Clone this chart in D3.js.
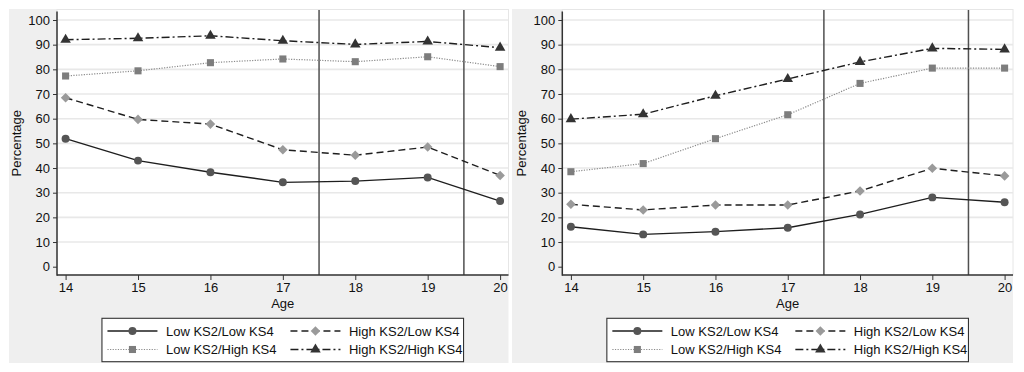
<!DOCTYPE html>
<html>
<head>
<meta charset="utf-8">
<script src="https://cdn.jsdelivr.net/npm/d3@7"></script>
<style>
  html, body { margin: 0; padding: 0; background: #ffffff; }
  svg { display: block; font-family: "Liberation Sans", Arial, sans-serif; }
</style>
</head>
<body>
<svg id="chart" width="1024" height="372"></svg>
<script>
// ---------- data ----------
const ages = [14, 15, 16, 17, 18, 19, 20];
const yTickValues = [0, 10, 20, 30, 40, 50, 60, 70, 80, 90, 100];
const gridValues = [10, 20, 30, 40, 50, 60, 70, 80, 90, 100];
const refLineAges = [17.5, 19.5];
const seriesLabels = ["Low KS2/Low KS4", "High KS2/Low KS4", "Low KS2/High KS4", "High KS2/High KS4"];

const leftLowLow   = [51.9, 43.0, 38.3, 34.2, 34.7, 36.2, 26.6];
const leftHighLow  = [68.5, 59.7, 57.8, 47.4, 45.2, 48.5, 37.0];
const leftLowHigh  = [77.3, 79.4, 82.7, 84.2, 83.1, 85.1, 81.1];
const leftHighHigh = [92.0, 92.6, 93.6, 91.6, 90.1, 91.3, 88.8];

const rightLowLow   = [16.2, 13.1, 14.2, 15.8, 21.2, 28.1, 26.1];
const rightHighLow  = [25.3, 23.0, 25.0, 25.0, 30.7, 39.9, 36.8];
const rightLowHigh  = [38.5, 41.8, 51.9, 61.6, 74.3, 80.5, 80.5];
const rightHighHigh = [59.8, 61.8, 69.3, 76.1, 83.0, 88.5, 88.1];

// ---------- styles ----------
const seriesStyles = [
  { line: "#1e1e1e", width: 1.4, dash: null,        marker: "circle",   fill: "#555555" },
  { line: "#1e1e1e", width: 1.4, dash: "7,4",       marker: "diamond",  fill: "#9a9a9a" },
  { line: "#8a8a8a", width: 1.2, dash: "1.2,1.4",   marker: "square",   fill: "#7d7d7d" },
  { line: "#1e1e1e", width: 1.4, dash: "8,3,2,3",   marker: "triangle", fill: "#333333" }
];

const panels = [
  { bgX0: 9,   bgX1: 508.5, axisX: 57,    plotRight: 508.5, series: [leftLowLow, leftHighLow, leftLowHigh, leftHighHigh] },
  { bgX0: 512, bgX1: 1013,  axisX: 562.3, plotRight: 1013,  series: [rightLowLow, rightHighLow, rightLowHigh, rightHighHigh] }
];

const bgY0 = 9, bgY1 = 363;
const plotTop = 9.5, axisY = 275;
const fontSize = 13;

const svg = d3.select("#chart");

function markerPath(type) {
  if (type === "circle") return d3.symbol().type(d3.symbolCircle).size(50)();
  if (type === "square") return d3.symbol().type(d3.symbolSquare).size(50)();
  if (type === "triangle") return d3.symbol().type(d3.symbolTriangle).size(48)();
  if (type === "diamond") return d3.symbol().type(d3.symbolSquare).size(46)();
}
function markerTransform(type, x, y) {
  return type === "diamond" ? `translate(${x},${y}) rotate(45)` : `translate(${x},${y})`;
}

panels.forEach(p => {
  const g = svg.append("g");
  // graph region background
  g.append("rect").attr("x", p.bgX0).attr("y", bgY0)
    .attr("width", p.bgX1 - p.bgX0).attr("height", bgY1 - bgY0).attr("fill", "#efefef");
  // plot region
  g.append("rect").attr("x", p.axisX).attr("y", plotTop)
    .attr("width", p.plotRight - p.axisX).attr("height", axisY - plotTop)
    .attr("fill", "#ffffff").attr("stroke", "#e6e6e6").attr("stroke-width", 1);

  const x = d3.scaleLinear().domain([14, 20]).range([p.axisX + 8.6, p.plotRight - 8.4]);
  const y = d3.scaleLinear().domain([0, 100]).range([266.7, 20]);

  // grid
  g.append("g").selectAll("line").data(gridValues).join("line")
    .attr("x1", p.axisX).attr("x2", p.plotRight)
    .attr("y1", d => y(d)).attr("y2", d => y(d))
    .attr("stroke", "#e8e8e8").attr("stroke-width", 1.6);

  // reference lines
  g.append("g").selectAll("line").data(refLineAges).join("line")
    .attr("x1", d => x(d)).attr("x2", d => x(d))
    .attr("y1", plotTop + 0.5).attr("y2", axisY)
    .attr("stroke", "#505050").attr("stroke-width", 1.5);

  // y axis
  const yAxis = g.append("g").attr("transform", `translate(${p.axisX},0)`)
    .call(d3.axisLeft(y).tickValues(yTickValues).tickSize(4).tickPadding(3).tickSizeOuter(0));
  yAxis.select(".domain").remove();
  yAxis.selectAll(".tick line").attr("stroke", "#333").attr("stroke-width", 1);
  yAxis.selectAll(".tick text").attr("font-size", fontSize).attr("fill", "#111")
    .attr("font-family", "Liberation Sans, Arial, sans-serif");

  // x axis
  const xAxis = g.append("g").attr("transform", `translate(0,${axisY})`)
    .call(d3.axisBottom(x).tickValues(ages).tickFormat(d3.format("d")).tickSize(5).tickPadding(3).tickSizeOuter(0));
  xAxis.select(".domain").remove();
  xAxis.selectAll(".tick line").attr("stroke", "#333").attr("stroke-width", 1);
  xAxis.selectAll(".tick text").attr("font-size", fontSize).attr("fill", "#111")
    .attr("font-family", "Liberation Sans, Arial, sans-serif");

  // axis lines
  g.append("line").attr("x1", p.axisX).attr("x2", p.axisX).attr("y1", 11.5).attr("y2", axisY + 0.7)
    .attr("stroke", "#333").attr("stroke-width", 1.5);
  g.append("line").attr("x1", p.axisX).attr("x2", p.plotRight).attr("y1", axisY).attr("y2", axisY)
    .attr("stroke", "#333").attr("stroke-width", 1.5);

  // axis titles
  g.append("text").attr("x", (p.axisX + p.plotRight) / 2).attr("y", 307.5)
    .attr("text-anchor", "middle").attr("font-size", fontSize).attr("fill", "#111").text("Age");
  g.append("text")
    .attr("transform", `translate(21,${(11.5 + axisY) / 2}) rotate(-90)`)
    .attr("x", 0).attr("y", 0)
    .attr("text-anchor", "middle").attr("font-size", fontSize).attr("fill", "#111").text("Percentage");
  // shift percentage title for right panel
  if (p.bgX0 > 100) {
    g.select("text:last-of-type");
  }

  // series
  const line = d3.line().x((d, i) => x(ages[i])).y(d => y(d));
  p.series.forEach((vals, si) => {
    const st = seriesStyles[si];
    g.append("path").datum(vals).attr("d", line)
      .attr("fill", "none").attr("stroke", st.line).attr("stroke-width", st.width)
      .attr("stroke-dasharray", st.dash);
  });
  p.series.forEach((vals, si) => {
    const st = seriesStyles[si];
    g.append("g").selectAll("path").data(vals).join("path")
      .attr("d", markerPath(st.marker))
      .attr("transform", (d, i) => markerTransform(st.marker, x(ages[i]), y(d)))
      .attr("fill", st.fill);
  });

  // legend
  const cx = (p.axisX + p.plotRight) / 2;
  const lx0 = cx - 180.8, lx1 = cx + 180.8;
  const ly0 = 318.3, ly1 = 361.7;
  const lg = g.append("g");
  lg.append("rect").attr("x", lx0).attr("y", ly0).attr("width", lx1 - lx0).attr("height", ly1 - ly0)
    .attr("fill", "#ffffff").attr("stroke", "#333").attr("stroke-width", 1.1);
  const legendOrder = [0, 1, 2, 3];
  legendOrder.forEach((si, k) => {
    const col = k % 2, row = Math.floor(k / 2);
    const st = seriesStyles[si];
    const kx0 = lx0 + (col === 0 ? 5.5 : 188.5);
    const kx1 = kx0 + 50;
    const ky = row === 0 ? 331 : 349.5;
    lg.append("line").attr("x1", kx0).attr("x2", kx1).attr("y1", ky).attr("y2", ky)
      .attr("stroke", st.line).attr("stroke-width", st.width).attr("stroke-dasharray", st.dash);
    lg.append("path").attr("d", markerPath(st.marker))
      .attr("transform", markerTransform(st.marker, (kx0 + kx1) / 2, ky)).attr("fill", st.fill);
    lg.append("text").attr("x", kx1 + 8.5).attr("y", ky).attr("dy", "0.35em")
      .attr("font-size", fontSize).attr("fill", "#111").text(seriesLabels[si]);
  });
});

// place right panel "Percentage" title relative to its own panel
svg.selectAll("g").filter(function() { return this.parentNode === svg.node(); })
  .each(function(d, i) {
    if (i === 1) {
      d3.select(this).selectAll("text").filter(function() { return d3.select(this).text() === "Percentage"; })
        .attr("transform", `translate(${21 + 505.3},${(11.5 + axisY) / 2}) rotate(-90)`);
    }
  });
</script>
</body>
</html>
